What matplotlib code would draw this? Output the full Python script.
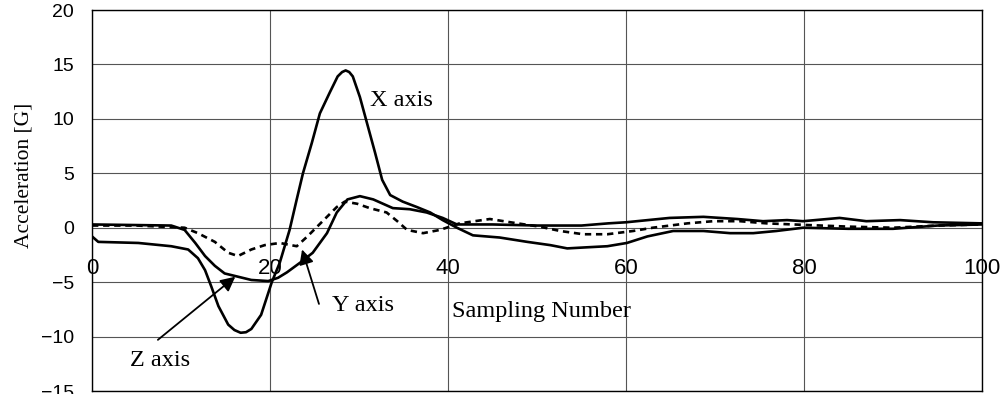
import matplotlib
matplotlib.use("Agg")
import matplotlib.pyplot as plt

# --- data ---
x_axis_n = [0, 0.7, 5.2, 8.9, 10.8, 11.9, 12.7, 13.4, 14.2, 15.3, 16.0, 16.7, 17.3, 17.9, 19.0, 20.2,
            21.1, 22.2, 23.0, 23.7, 24.7, 25.6, 26.7, 27.6, 28.1, 28.5, 28.9, 29.3, 30.1, 30.9, 31.8,
            32.6, 33.5, 34.9, 36.5, 38.0, 39.4, 41.0, 42.8, 45.8, 48.9, 51.5, 53.4, 55.6,
            57.9, 60.1, 62.4, 65.3, 68.7, 71.7, 74.3, 76.9, 79.9, 85, 90, 95, 100]
x_axis_acc = [-0.8, -1.3, -1.4, -1.7, -2.0, -2.8, -3.9, -5.4, -7.2, -8.9, -9.4, -9.65, -9.6, -9.3, -8.0, -5.0,
              -3.2, -0.2, 2.6, 5.0, 7.8, 10.5, 12.4, 13.9, 14.3, 14.45, 14.3, 13.9, 12.0, 9.6, 6.9,
              4.4, 3.0, 2.4, 1.9, 1.4, 0.7, 0.0, -0.7, -0.9, -1.3, -1.6, -1.9, -1.8,
              -1.7, -1.4, -0.8, -0.3, -0.3, -0.5, -0.5, -0.3, 0.0, -0.1, -0.1, 0.2, 0.3]

y_axis_n = [0, 5, 10.4, 11.9, 13.8, 15.3, 16.4, 17.9, 19.4, 21.1, 23.0, 24.2, 25.3, 26.4,
            27.5, 28.4, 29.8, 31.2, 33.1, 34.3, 35.4, 37.2, 39.1, 40.2, 41.3, 44.7, 47.8,
            50.3, 52.6, 55.2, 57.9, 60.8, 63.0, 66.9, 69.8, 72.8, 75.8, 78.8, 85, 90, 95, 100]
y_axis_acc = [0.2, 0.2, 0.0, -0.5, -1.3, -2.3, -2.6, -2.0, -1.6, -1.4, -1.7, -0.8, 0.1, 1.0,
              1.9, 2.4, 2.2, 1.8, 1.4, 0.6, -0.2, -0.5, -0.2, 0.1, 0.4, 0.8, 0.4,
              0.1, -0.3, -0.6, -0.6, -0.3, 0.0, 0.4, 0.6, 0.6, 0.4, 0.3, 0.1, 0.0, 0.2, 0.3]

z_axis_n = [0, 8.9, 10.4, 11.6, 12.7, 13.8, 14.9, 16.4, 17.9, 19.8, 20.9, 21.9, 23.4, 24.8,
            26.4, 27.5, 28.7, 30.1, 31.6, 33.8, 35.7, 37.6, 39.4, 41.0, 45, 50, 55, 58, 60,
            64.9, 68.7, 72.5, 75.4, 78.1, 79.9, 84, 87, 90.8, 94.5, 100]
z_axis_acc = [0.3, 0.2, -0.2, -1.4, -2.6, -3.5, -4.2, -4.5, -4.8, -4.9, -4.6, -4.1, -3.2, -2.3,
              -0.5, 1.4, 2.6, 2.9, 2.6, 1.8, 1.7, 1.4, 0.9, 0.3, 0.3, 0.2, 0.2, 0.4, 0.5,
              0.9, 1.0, 0.8, 0.6, 0.7, 0.6, 0.9, 0.6, 0.7, 0.5, 0.4]

x_ticks = [0, 20, 40, 60, 80, 100]
y_ticks = [-15, -10, -5, 0, 5, 10, 15, 20]

num_font = "Liberation Sans"
txt_font = "Liberation Serif"

fig = plt.figure(figsize=(10.08, 3.94), dpi=100)
ax = fig.add_axes([0.0913, 0.0076, 0.8829, 0.9670])

ax.plot(x_axis_n, x_axis_acc, color="black", lw=1.9, solid_joinstyle="round")
ax.plot(z_axis_n, z_axis_acc, color="black", lw=1.9, solid_joinstyle="round")
ax.plot(y_axis_n, y_axis_acc, color="black", lw=1.9, linestyle=(0, (2.4, 1.8)))

ax.set_xlim(0, 100)
ax.set_ylim(-15, 20)
ax.set_xticks(x_ticks)
ax.set_yticks(y_ticks)
ax.set_yticklabels([str(v).replace("-", "\u2212") for v in y_ticks],
                   fontfamily=num_font, fontsize=14)
ax.tick_params(axis="y", length=0, pad=13)
ax.tick_params(axis="x", length=0, labelbottom=False)
ax.grid(True, color="#555555", lw=0.8)
ax.set_axisbelow(True)
for s in ax.spines.values():
    s.set_color("black")
    s.set_linewidth(1.0)

# x tick labels sit under the zero line
sec = ax.secondary_xaxis(15 / 35)
sec.set_xticks(x_ticks)
sec.set_xticklabels([str(v) for v in x_ticks], fontfamily=num_font, fontsize=16)
sec.tick_params(length=0, pad=22)
for s in sec.spines.values():
    s.set_visible(False)

ax.set_ylabel("Acceleration [G]", fontfamily=txt_font, fontsize=15.5)
ax.yaxis.set_label_coords(-0.066, 0.565)

ax.text(31.2, 11.65, "X axis", fontfamily=txt_font, fontsize=17.5, ha="left", va="center")
ax.text(27.0, -7.1, "Y axis", fontfamily=txt_font, fontsize=17.5, ha="left", va="center")
ax.text(4.3, -12.2, "Z axis", fontfamily=txt_font, fontsize=17.5, ha="left", va="center")
ax.text(40.4, -7.7, "Sampling Number", fontfamily=txt_font, fontsize=17.5, ha="left", va="center")

arrow = dict(arrowstyle="-|>", color="black", lw=1.3, mutation_scale=22, shrinkA=0, shrinkB=0)
ax.annotate("", xy=(16.1, -4.5), xytext=(7.4, -10.3), arrowprops=arrow)
ax.annotate("", xy=(23.6, -2.0), xytext=(25.5, -7.0), arrowprops=arrow)

fig.savefig("out.png", dpi=100)
